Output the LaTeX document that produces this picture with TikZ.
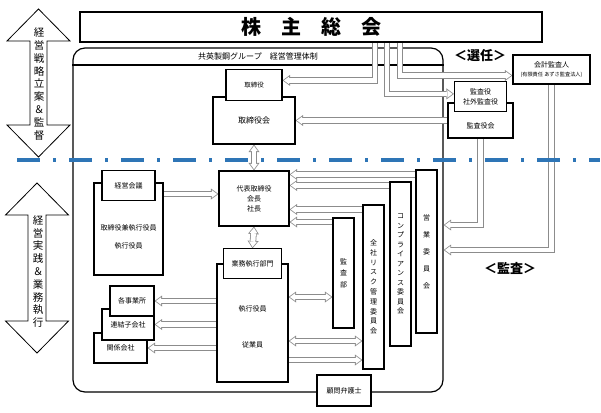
\documentclass[tikz,border=0pt]{standalone}
\usepackage{fontspec}
\setmainfont{Noto Sans CJK JP}
\usetikzlibrary{positioning}
\usetikzlibrary{arrows.meta}
\definecolor{bandgray}{RGB}{140,140,140}
\definecolor{lineblue}{RGB}{46,117,182}
\pgfdeclarelayer{bg}
\pgfdeclarelayer{mid}
\pgfsetlayers{bg,mid,main}

\begin{document}
\begin{tikzpicture}[
  x=1pt, y=-1pt,
  fs/.style 2 args={font=\fontsize{#1}{#2}\selectfont},
  sz/.style 2 args={minimum width=#1pt, minimum height=#2pt},
  box/.style={draw, line width=1.1pt, fill=white, align=center, inner sep=1pt, fs={7}{9.5}},
  txt/.style={align=center, inner sep=0pt, fs={7}{9.5}},
  outtip/.tip={Triangle[length=7.5pt, width=11pt, line width=0pt]},
  intip/.tip={Triangle[length=5.3pt, width=7.8pt, line width=0pt]},
  blk/.style={draw=white, line width=4.8pt, shorten >=1.35pt, -intip,
    preaction={draw=bandgray, line width=6.4pt, shorten >=0pt, -outtip}},
  dblk/.style={draw=white, line width=4.8pt, shorten >=1.35pt, shorten <=1.35pt, intip-intip,
    preaction={draw=bandgray, line width=6.4pt, shorten >=0pt, shorten <=0pt, outtip-outtip}},
  bigarr/.style={draw, line width=0.8pt, fill=white, line join=miter},
  sepline/.style={lineblue, line width=3.5pt, dash pattern=on 23pt off 13pt on 2.5pt off 13.5pt}
]
\useasboundingbox (0,0) rectangle (601,412);

% left side
\foreach \cx/\ya/\yb/\hw in {38.5/9/157/8.5, 37/183/353/9}
  \draw[bigarr] (\cx,\ya) -- (\cx+31.5,\ya+32) -- (\cx+\hw,\ya+32) -- (\cx+\hw,\yb-32)
    -- (\cx+31.5,\yb-32) -- (\cx,\yb) -- (\cx-31.5,\yb-32) -- (\cx-\hw,\yb-32)
    -- (\cx-\hw,\ya+32) -- (\cx-31.5,\ya+32) -- cycle;
\node[txt, fs={10.5}{12.8}] (plan) at (39,84) {経\\営\\戦\\略\\立\\案\\＆\\監\\督};
\node[txt, fs={10.5}{12.8}] (exec) at (38,271.5) {経\\営\\実\\践\\＆\\業\\務\\執\\行};

\node[box, sz={462}{30}, line width=1.2pt, font=\bfseries\fontsize{20}{24}\selectfont] (kabu) at (311,27) {株　主　総　会};

\begin{pgfonlayer}{bg}
\node[draw, line width=1.2pt, rounded corners=12pt, sz={370}{344}] (grp) at (258,220) {};
\draw[line width=1.1pt] (grp.west |- 0,65) -- (grp.east |- 0,65);
\end{pgfonlayer}
\node[txt, fs={8}{10}] (grptitle) at (258,56) {共英製鋼グループ　経営管理体制};

\node[box, sz={82}{47}, fs={8}{10}] (torikai) at (254,120.5) {取締役会};
\node[box, sz={56}{31}, fs={6.5}{8}, above=-5pt of torikai] (tori) {取締役};

\node[box, sz={70}{55}, fs={7}{10}] (daihyo) at (254,198.5) {代表取締役\\会長\\社長};

\node[box, sz={69}{92}] (keiei) at (128.5,229) {};
\node[box, sz={53}{30}, above=-19pt of keiei] (kaigi) {経営会議};
\node[txt] (keieitxt) at (128.5,237) {取締役兼執行役員\\[8.5pt]執行役員};

\node[box, sz={71}{118}] (gyomu) at (252.5,323) {};
\node[box, sz={58}{30}, above=-16pt of gyomu] (gyomubu) {業務執行部門};
\node[txt] (gyomutxt) at (252.5,327) {執行役員\\[26.5pt]従業員};

\node[box, sz={53}{30}] (kankei) at (120.5,348) {関係会社};
\node[box, sz={52}{31}] (renketsu) at (128,324.5) {連結子会社};
\node[box, sz={44}{30}] (jigyo) at (132,301) {各事業所};

\node[box, sz={21}{110}, fs={7}{11.5}] (kansabu) at (343.5,273) {監\\査\\部};
\node[box, sz={21}{164}, fs={7}{9.8}] (risk) at (373.5,287) {全\\社\\リ\\ス\\ク\\管\\理\\委\\員\\会};
\node[box, sz={21}{164}, fs={7}{9.5}] (comp) at (400.5,264) {コ\\ン\\プ\\ラ\\イ\\ア\\ン\\ス\\委\\員\\会};
\node[box, sz={21}{163}, fs={7}{17}] (eigyo) at (426.5,251.5) {営\\業\\委\\員\\会};
\node[box, sz={54}{31}] (komon) at (344,390.5) {顧問弁護士};

\node[box, sz={65}{35}] (kansakai) at (480.5,120.5) {};
\node[box, sz={52}{30}, fs={7}{9.5}, above=-10pt of kansakai] (kansayaku) {監査役\\社外監査役};
\node[txt] (kansakaitxt) at (480.5,126) {監査役会};
\node[box, sz={77}{29}, fs={7}{9}] (kaikei) at (551.5,69.5) {会計監査人\\{\fontsize{5.2}{6}\selectfont (有限責任 あずさ監査法人)}};

\node[txt, font=\bfseries\fontsize{13}{15}\selectfont] (senin) at (480,56) {＜選任＞};
\node[txt, font=\bfseries\fontsize{13}{15}\selectfont] (kansa) at (510,268) {＜監査＞};

\coordinate (s1) at (kabu.south -| 375,0);
\coordinate (s2) at (kabu.south -| 387,0);
\coordinate (s3) at (kabu.south -| 400,0);

\begin{pgfonlayer}{mid}
\draw[blk] (s1) |- ([yshift=5pt]tori.east);
\draw[blk] (s2) |- ([yshift=3pt]kansayaku.west);
\draw[blk] (s3) |- ([yshift=-6pt]kaikei.west);
\draw[blk] (kansakai.west) -- (torikai.east);
\draw[dblk] (torikai.south) -- (daihyo.north);
\draw[dblk] (daihyo.south) -- (gyomubu.north);
\draw[blk] (keiei.east |- 0,194) -- (daihyo.west |- 0,194);
\draw[blk] (eigyo.west |- 0,174.5) -- (daihyo.east |- 0,174.5);
\draw[blk] (comp.west |- 0,185.5) -- (daihyo.east |- 0,185.5);
\draw[blk] (risk.west |- 0,209.5) -- (daihyo.east |- 0,209.5);
\draw[blk] (kansabu.west |- 0,222) -- (daihyo.east |- 0,222);
\draw[dblk] (gyomu.east |- 0,297) -- (kansabu.west |- 0,297);
\draw[dblk] (gyomu.east |- 0,341) -- (risk.west |- 0,341);
\draw[blk] (gyomu.east |- 0,360) -- (risk.west |- 0,360);
\draw[blk] (gyomu.west |- jigyo.east) -- (jigyo.east);
\draw[blk] (gyomu.west |- renketsu.east) -- (renketsu.east);
\draw[blk] (gyomu.west |- kankei.east) -- (kankei.east);
\draw[blk] (kansakai.south) |- (grp.east |- 0,225);
\draw[blk] (kaikei.south) |- (grp.east |- 0,250);
\end{pgfonlayer}

\draw[sepline] (17,160) -- (600,160);
\end{tikzpicture}
\end{document}
